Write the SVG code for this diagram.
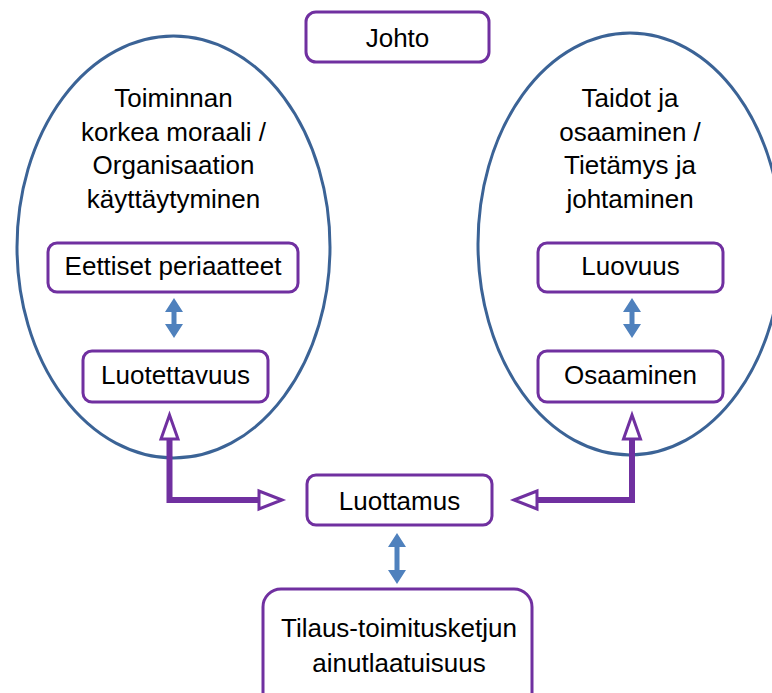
<svg xmlns="http://www.w3.org/2000/svg" width="772" height="693" viewBox="0 0 772 693">
  <defs>
    <style>
      .oval { fill: none; stroke: #3B6396; stroke-width: 3; }
      .box { fill: #FFFFFF; stroke: #7030A0; stroke-width: 3; }
      .lbl { font-family: "Liberation Sans", Arial, sans-serif; font-size: 26px; fill: #000000; text-anchor: middle; }
      .link { fill: none; stroke: #7030A0; stroke-width: 6; stroke-linejoin: miter; }
      .head { fill: #FFFFFF; stroke: #7030A0; stroke-width: 3; stroke-linejoin: miter; }
      .dbl { fill: #4F81BD; }
    </style>
  </defs>
  <rect width="772" height="693" fill="#FFFFFF"/>

  <!-- group ovals -->
  <g id="group-left">
    <ellipse class="oval" cx="173.5" cy="247" rx="156.5" ry="211"/>
    <text class="lbl" x="173.5" y="107">Toiminnan</text>
    <text class="lbl" x="173.5" y="141">korkea moraali /</text>
    <text class="lbl" x="173.5" y="174">Organisaation</text>
    <text class="lbl" x="173.5" y="208">käyttäytyminen</text>
  </g>
  <g id="group-right">
    <ellipse class="oval" cx="630" cy="244" rx="152" ry="211"/>
    <text class="lbl" x="630" y="107">Taidot ja</text>
    <text class="lbl" x="630" y="141">osaaminen /</text>
    <text class="lbl" x="630" y="174">Tietämys ja</text>
    <text class="lbl" x="630" y="208">johtaminen</text>
  </g>

  <!-- connectors -->
  <g id="connectors">
    <path class="link" d="M169.5,438 V500 H260"/>
    <polygon class="head" points="169.5,415 161,439 178,439"/>
    <polygon class="head" points="282,500 259,491 259,509"/>
    <path class="link" d="M632,438 V500 H536"/>
    <polygon class="head" points="632,415 623.5,439 640.5,439"/>
    <polygon class="head" points="514,500 537,491 537,509"/>
    <polygon class="dbl" points="174,298 183,312 176.5,312 176.5,324 183,324 174,338 165,324 171.5,324 171.5,312 165,312"/>
    <polygon class="dbl" points="632,298 641,312 634.5,312 634.5,324 641,324 632,338 623,324 629.5,324 629.5,312 623,312"/>
    <polygon class="dbl" points="397,533 406,547 399.5,547 399.5,570 406,570 397,584 388,570 394.5,570 394.5,547 388,547"/>
  </g>

  <!-- nodes -->
  <g id="johto">
    <rect class="box" x="306" y="12" width="183" height="50" rx="10"/>
    <text class="lbl" x="397.5" y="47">Johto</text>
  </g>
  <g id="eettiset">
    <rect class="box" x="48" y="243" width="250" height="49" rx="9"/>
    <text class="lbl" x="173" y="275">Eettiset periaatteet</text>
  </g>
  <g id="luotettavuus">
    <rect class="box" x="83" y="351" width="185" height="51" rx="9"/>
    <text class="lbl" x="175.5" y="384">Luotettavuus</text>
  </g>
  <g id="luovuus">
    <rect class="box" x="538" y="243" width="185" height="49" rx="9"/>
    <text class="lbl" x="630.5" y="275">Luovuus</text>
  </g>
  <g id="osaaminen">
    <rect class="box" x="538" y="351" width="185" height="51" rx="9"/>
    <text class="lbl" x="630.5" y="384">Osaaminen</text>
  </g>
  <g id="luottamus">
    <rect class="box" x="307" y="475" width="185" height="50" rx="9"/>
    <text class="lbl" x="399.5" y="510">Luottamus</text>
  </g>
  <g id="tilaus">
    <rect class="box" x="263" y="589" width="269" height="125" rx="18"/>
    <text class="lbl" x="399" y="637">Tilaus-toimitusketjun</text>
    <text class="lbl" x="399" y="672">ainutlaatuisuus</text>
  </g>
</svg>
